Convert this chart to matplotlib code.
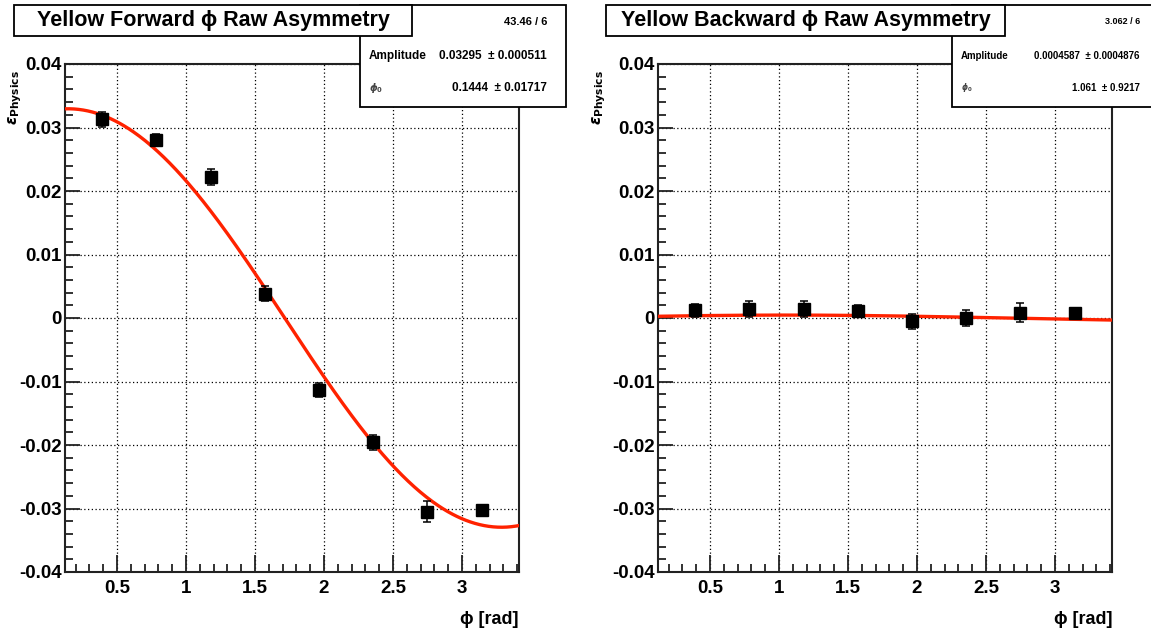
import numpy as np
import matplotlib
matplotlib.use("Agg")
import matplotlib.pyplot as plt
from matplotlib.patches import Rectangle
from matplotlib.ticker import MultipleLocator

plt.rcParams['font.family'] = ['Liberation Sans', 'DejaVu Sans']
plt.rcParams['font.weight'] = 'bold'

# bin centres (phi, rad)
phi = [0.393, 0.785, 1.178, 1.571, 1.963, 2.356, 2.749, 3.142]

# Yellow forward
fwd_y = [0.0313, 0.0281, 0.0222, 0.0038, -0.0113, -0.0196, -0.0305, -0.0302]
fwd_err = [0.0012, 0.0008, 0.0012, 0.0012, 0.0011, 0.0012, 0.0017, 0.0005]
fwd_fit = [0.03295, 0.1444]          # amplitude, phi0
fwd_stats = ["43.46 / 6", "0.03295  \u00b1 0.000511", "0.1444  \u00b1 0.01717"]

# Yellow backward
bwd_y = [0.0012, 0.0014, 0.0014, 0.0011, -0.0005, 0.0000, 0.0008, 0.0008]
bwd_err = [0.0010, 0.0012, 0.0012, 0.0010, 0.0012, 0.0013, 0.0015, 0.0004]
bwd_fit = [0.0004587, 1.061]
bwd_stats = ["3.062 / 6", "0.0004587  \u00b1 0.0004876", "1.061  \u00b1 0.9217"]

xmin, xmax = 0.123, 3.413

W, H = 1151, 633
fig = plt.figure(figsize=(W / 100, H / 100), dpi=100)


def px(x0, y0, x1, y1):
    return [x0 / W, 1 - y1 / H, (x1 - x0) / W, (y1 - y0) / H]


def box(x0, y0, x1, y1, z):
    fig.patches.append(Rectangle((x0 / W, 1 - y1 / H), (x1 - x0) / W, (y1 - y0) / H,
                                 transform=fig.transFigure, facecolor='white',
                                 edgecolor='black', linewidth=1.3, zorder=z))


def panel(ax_box, title_box, stats_box, stats_right, stats_fs, title, y, err, fit,
          stats, ylab_x):
    ax = fig.add_axes(px(*ax_box))
    ax.set_xlim(xmin, xmax)
    ax.set_ylim(-0.04, 0.04)
    ax.xaxis.set_major_locator(MultipleLocator(0.5))
    ax.xaxis.set_minor_locator(MultipleLocator(0.1))
    ax.yaxis.set_major_locator(MultipleLocator(0.01))
    ax.yaxis.set_minor_locator(MultipleLocator(0.002))
    ax.tick_params(which='both', direction='in', top=False, right=False,
                   labelsize=13.5, width=1.3, color='#222222')
    ax.tick_params(axis='y', which='major', length=11, pad=2.5)
    ax.tick_params(axis='y', which='minor', length=5.5)
    ax.tick_params(axis='x', which='major', length=12.5, pad=5.5)
    ax.tick_params(axis='x', which='minor', length=6)
    ax.set_xticks([0.5, 1, 1.5, 2, 2.5, 3])
    ax.set_xticklabels(['0.5', '1', '1.5', '2', '2.5', '3'])
    ax.set_yticks([-0.04, -0.03, -0.02, -0.01, 0, 0.01, 0.02, 0.03, 0.04])
    ax.set_yticklabels(['-0.04', '-0.03', '-0.02', '-0.01', '0',
                        '0.01', '0.02', '0.03', '0.04'])
    for s in ax.spines.values():
        s.set_linewidth(1.5)
        s.set_color('#222222')
    ax.grid(True, which='major', color='black', linestyle=(0, (1, 2)), linewidth=0.9)

    xs = np.linspace(xmin, xmax, 300)
    ax.plot(xs, fit[0] * np.cos(xs - fit[1]), color='#ff2200', linewidth=2.4, zorder=3)
    ax.errorbar(phi, y, yerr=err, fmt='s', color='black', markersize=8,
                elinewidth=1.1, capsize=3, capthick=1.1, zorder=4)

    fig.text(ax_box[2] / W, 1 - 620 / H, '\u03d5 [rad]', ha='right',
             va='center', fontsize=13, fontweight='bold')
    fig.text(ylab_x / W, 1 - 70 / H, r'$\epsilon_{\mathbf{Physics}}$',
             rotation=90, ha='center', va='top', fontsize=11)

    # stats box
    box(*stats_box, 5)
    r = stats_right / W
    lx = (stats_box[0] + 9) / W
    fig.text(r, 1 - 22 / H, stats[0], ha='right', va='center', fontsize=stats_fs - 0.5, zorder=6)
    fig.text(lx, 1 - 56 / H, 'Amplitude', ha='left', va='center', fontsize=stats_fs, zorder=6)
    fig.text(r, 1 - 56 / H, stats[1], ha='right', va='center', fontsize=stats_fs, zorder=6)
    fig.text(lx, 1 - 88 / H, r'$\phi_{0}$', ha='left', va='center', fontsize=stats_fs - 1.5,
             color='#444444', zorder=6)
    fig.text(r, 1 - 88 / H, stats[2], ha='right', va='center', fontsize=stats_fs, zorder=6)

    # title box
    box(*title_box, 7)
    tx0, ty0, tx1, ty1 = title_box
    fig.text((tx0 + tx1) / 2 / W, 1 - (ty0 + ty1) / 2 / H, title, ha='center',
             va='center', fontsize=15.5, fontweight='bold', zorder=8)
    return ax


panel((65, 64, 519, 572), (14, 5, 412, 36), (360, 5, 566, 107), 547, 8.5,
      'Yellow Forward \u03d5 Raw Asymmetry', fwd_y, fwd_err, fwd_fit, fwd_stats, 15)
panel((658, 64, 1112, 572), (606, 5, 1005, 36), (952, 5, 1165, 107), 1140, 7,
      'Yellow Backward \u03d5 Raw Asymmetry', bwd_y, bwd_err, bwd_fit, bwd_stats, 599)

fig.savefig('out.png', dpi=100)
